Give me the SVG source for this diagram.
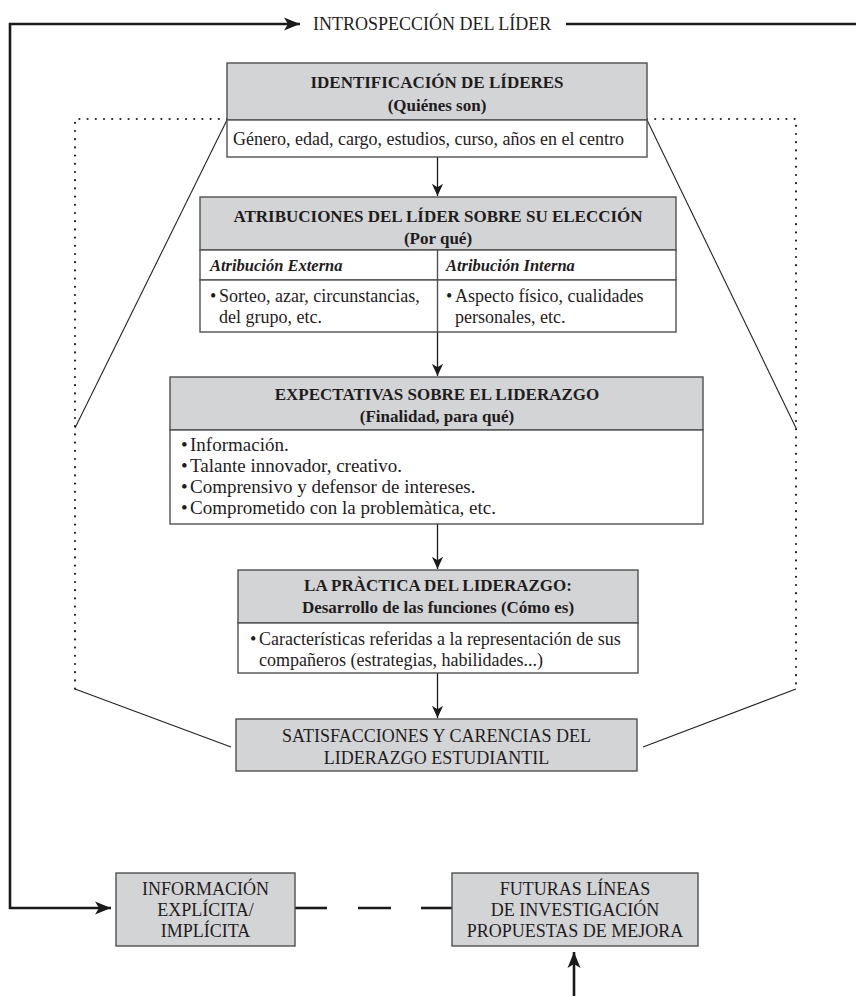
<svg xmlns="http://www.w3.org/2000/svg" width="856" height="996" viewBox="0 0 856 996">
<style>
  text { font-family: "Liberation Serif", "Times New Roman", serif; fill: #1f1c1d; }
  .t { font-weight: bold; font-size: 17px; text-anchor: middle; }
  .b { font-size: 18px; }
  .b19 { font-size: 19px; }
  .it { font-style: italic; font-weight: bold; font-size: 16.5px; }
  .cap { font-size: 18px; text-anchor: middle; }
  .hdr { fill: #d3d4d6; stroke: #505050; stroke-width: 1.4; }
  .body { fill: #fff; stroke: #505050; stroke-width: 1.4; }
  .thin { fill: none; stroke: #1a1a1a; stroke-width: 1.3; }
  .thick { fill: none; stroke: #1a1a1a; stroke-width: 2.6; }
  .dot { fill: none; stroke: #222; stroke-width: 2.2; stroke-linecap: round; stroke-dasharray: 0 8.2; }
  .diag { fill: none; stroke: #222; stroke-width: 1.1; }
</style>
<defs>
  <marker id="ah" markerUnits="userSpaceOnUse" markerWidth="14" markerHeight="14" viewBox="-14 -7 15 14" refX="0" refY="0" orient="auto">
    <path d="M0,0 L-13,-6 L-9.5,0 L-13,6 Z" fill="#1a1a1a"/>
  </marker>
  <marker id="ahb" markerUnits="userSpaceOnUse" markerWidth="18" markerHeight="14" viewBox="-17 -7 18 14" refX="0" refY="0" orient="auto-start-reverse">
    <path d="M0,0 L-16,-6.5 L-12,0 L-16,6.5 Z" fill="#1a1a1a"/>
  </marker>
</defs>

<g id="connectors">
  <!-- feedback loop: introspección -> información -->
  <path class="thick" d="M300,24 H10 V908 H111" marker-start="url(#ahb)" marker-end="url(#ahb)"/>
  <line class="thick" x1="566" y1="24" x2="856" y2="24"/>
  <!-- dotted frame -->
  <path class="dot" d="M227,119 H75 V689"/>
  <path class="dot" d="M647,119 H796 V689"/>
  <!-- slanted lines -->
  <line class="diag" x1="227" y1="120" x2="75" y2="428"/>
  <line class="diag" x1="647" y1="120" x2="796" y2="428"/>
  <line class="diag" x1="75" y1="689" x2="231" y2="747"/>
  <line class="diag" x1="796" y1="689" x2="643" y2="747"/>
  <!-- vertical flow arrows -->
  <line class="thin" x1="437.5" y1="157" x2="437.5" y2="196" marker-end="url(#ah)"/>
  <line class="thin" x1="437.5" y1="332" x2="437.5" y2="376" marker-end="url(#ah)"/>
  <line class="thin" x1="437.5" y1="524" x2="437.5" y2="569" marker-end="url(#ah)"/>
  <line class="thin" x1="437.5" y1="673" x2="437.5" y2="718" marker-end="url(#ah)"/>
  <!-- bottom dashed link -->
  <line class="thick" x1="295" y1="908" x2="327" y2="908"/>
  <line class="thick" x1="358" y1="908" x2="391" y2="908"/>
  <line class="thick" x1="421" y1="908" x2="452" y2="908"/>
  <!-- up arrow -->
  <line class="thick" x1="574" y1="996" x2="574" y2="952" marker-end="url(#ahb)"/>
</g>

<g id="label-introspeccion">
  <text class="b" x="313" y="30">INTROSPECCIÓN DEL LÍDER</text>
</g>

<g id="identificacion">
  <rect class="hdr" x="227" y="63" width="420" height="57"/>
  <rect class="body" x="227" y="120" width="420" height="37"/>
  <text class="t" x="437" y="88">IDENTIFICACIÓN DE LÍDERES</text>
  <text class="t" x="437" y="111">(Quiénes son)</text>
  <text class="b" x="233" y="145" font-size="18.8">Género, edad, cargo, estudios, curso, años en el centro</text>
</g>

<g id="atribuciones">
  <rect class="hdr" x="200" y="197" width="476" height="53"/>
  <rect class="body" x="200" y="250" width="476" height="30"/>
  <rect class="body" x="200" y="280" width="476" height="52"/>
  <line x1="437.5" y1="250" x2="437.5" y2="332" stroke="#505050" stroke-width="1.4"/>
  <text class="t" x="438" y="222" font-size="18">ATRIBUCIONES DEL LÍDER SOBRE SU ELECCIÓN</text>
  <text class="t" x="438" y="244">(Por qué)</text>
  <text class="it" x="210" y="271">Atribución Externa</text>
  <text class="it" x="446" y="271">Atribución Interna</text>
  <text class="b" x="210" y="302">•</text>
  <text class="b" x="219" y="302">Sorteo, azar, circunstancias,</text>
  <text class="b" x="219" y="323">del grupo, etc.</text>
  <text class="b" x="446" y="302">•</text>
  <text class="b" x="455" y="302">Aspecto físico, cualidades</text>
  <text class="b" x="455" y="323">personales, etc.</text>
</g>

<g id="expectativas">
  <rect class="hdr" x="170" y="377" width="533" height="53"/>
  <rect class="body" x="170" y="430" width="533" height="94"/>
  <text class="t" x="437" y="400">EXPECTATIVAS SOBRE EL LIDERAZGO</text>
  <text class="t" x="437" y="422">(Finalidad, para qué)</text>
  <text class="b19" x="181" y="451">•</text>
  <text class="b19" x="190" y="451">Información.</text>
  <text class="b19" x="181" y="472">•</text>
  <text class="b19" x="190" y="472">Talante innovador, creativo.</text>
  <text class="b19" x="181" y="493">•</text>
  <text class="b19" x="190" y="493">Comprensivo y defensor de intereses.</text>
  <text class="b19" x="181" y="514">•</text>
  <text class="b19" x="190" y="514">Comprometido con la problemàtica, etc.</text>
</g>

<g id="practica">
  <rect class="hdr" x="238" y="570" width="400" height="53"/>
  <rect class="body" x="238" y="623" width="400" height="50"/>
  <text class="t" x="438" y="591" font-size="15">LA PRÀCTICA DEL LIDERAZGO:</text>
  <text class="t" x="438" y="613" font-size="15">Desarrollo de las funciones (Cómo es)</text>
  <text class="b" x="250" y="645">•</text>
  <text class="b" x="259" y="645">Características referidas a la representación de sus</text>
  <text class="b" x="259" y="666">compañeros (estrategias, habilidades...)</text>
</g>

<g id="satisfacciones">
  <rect class="hdr" x="236" y="719" width="401" height="52"/>
  <text class="cap" x="436.5" y="742">SATISFACCIONES Y CARENCIAS DEL</text>
  <text class="cap" x="436.5" y="764">LIDERAZGO ESTUDIANTIL</text>
</g>

<g id="informacion">
  <rect class="hdr" x="116" y="873" width="179" height="73"/>
  <text class="cap" x="205.5" y="895">INFORMACIÓN</text>
  <text class="cap" x="205.5" y="916">EXPLÍCITA/</text>
  <text class="cap" x="205.5" y="937">IMPLÍCITA</text>
</g>

<g id="futuras">
  <rect class="hdr" x="452" y="873" width="246" height="73"/>
  <text class="cap" x="575" y="895">FUTURAS LÍNEAS</text>
  <text class="cap" x="575" y="916">DE INVESTIGACIÓN</text>
  <text class="cap" x="575" y="937">PROPUESTAS DE MEJORA</text>
</g>
</svg>
